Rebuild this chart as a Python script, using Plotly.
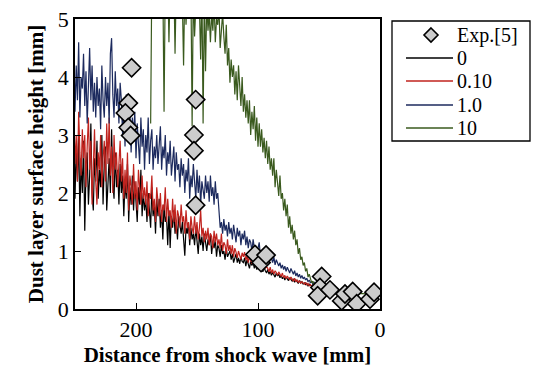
import plotly.graph_objects as go

# ---------------- data ----------------
# Experimental points Exp.[5]
exp_x = [203.6, 206.3, 208.7, 206.3, 204.4, 151.1, 152.5, 152.5, 151.1, 102.5, 97.5, 93.4,
         47.8, 49.2, 51.1, 41.0, 31.4, 28.7, 22.4, 19.1, 8.2, 4.9]
exp_y = [4.16, 3.55, 3.38, 3.13, 2.99, 3.61, 3.00, 2.73, 1.79, 0.94, 0.80, 0.93,
         0.56, 0.37, 0.23, 0.33, 0.14, 0.26, 0.30, 0.09, 0.17, 0.29]

# sampling positions of simulated profiles 0 / 0.10 / 1.0 [mm]
sim_x = [252, 251, 250, 249, 248, 247, 246, 245, 244, 243,
         242, 241, 240, 239, 238, 237, 236, 235, 234, 233,
         232, 231, 230, 229, 228, 227, 226, 225, 224, 223,
         222, 221, 220, 219, 218, 217, 216, 215, 214, 213,
         212, 211, 210, 209, 208, 207, 206, 205, 204, 203,
         202, 201, 200, 199, 198, 197, 196, 195, 194, 193,
         192, 191, 190, 189, 188, 187, 186, 185, 184, 183,
         182, 181, 180, 179, 178, 177, 176, 175, 174, 173,
         172, 171, 170, 169, 168, 167, 166, 165, 164, 163,
         162, 161, 160, 159, 158, 157, 156, 155, 154, 153,
         152, 151, 150, 149, 148, 147, 146, 145, 144, 143,
         142, 141, 140, 139, 138, 137, 136, 135, 134, 133,
         132, 131, 130, 129, 128, 127, 126, 125, 124, 123,
         122, 121, 120, 119, 118, 117, 116, 115, 114, 113,
         112, 111, 110, 109, 108, 107, 106, 105, 104, 103,
         102, 101, 100, 99, 98, 97, 96, 95, 94, 93,
         92, 91, 90, 89, 88, 87, 86, 85, 84, 83,
         82, 81, 80, 79, 78, 77, 76, 75, 74, 73,
         72, 71, 70, 69, 68, 67, 66, 65, 64, 63,
         62, 61, 60, 59, 58, 57, 56, 55, 54, 53,
         52, 51, 50]

y_0 = [2.5, 3.1, 1.9, 2.8, 2.2, 3.0, 1.6, 2.6, 2.0, 2.9,
       1.35, 2.4, 2.7, 1.8, 2.3, 3.2, 2.0, 1.7, 2.6, 2.2,
       2.9, 1.9, 2.4, 2.1, 3.0, 1.8, 2.5, 2.8, 1.7, 2.3,
       2.6, 2.0, 3.1, 2.2, 1.9, 2.7, 2.1, 2.4, 1.8, 2.5,
       2.0, 2.3, 1.6, 2.2, 1.9, 2.5, 1.5, 2.1, 1.8, 2.3,
       1.7, 2.2, 1.9, 1.5, 2.1, 1.8, 2.4, 1.6, 2.0, 1.7,
       1.9, 1.5, 2.0, 1.7, 1.4, 2.1, 1.6, 1.8, 1.3, 1.9,
       1.6, 1.9, 1.4, 1.7, 1.2, 1.8, 1.5, 1.6, 1.1, 1.7,
       1.05, 1.6, 1.4, 1.7, 1.3, 1.5, 1.2, 1.6, 1.4, 1.3,
       1.5, 1.1, 0.92, 1.4, 1.3, 1.5, 1.1, 1.4, 1.2, 1.3,
       1.1, 1.4, 1.2, 0.95, 1.3, 1.1, 1.25, 1.0, 1.3, 1.15,
       1.0, 1.2, 1.1, 1.3, 0.95, 1.15, 1.05, 1.2, 0.9, 1.1,
       1.05, 0.9, 1.1, 0.95, 1.0, 0.85, 1.05, 0.9, 0.95, 1.0,
       0.85, 0.95, 0.8, 0.9, 0.95, 0.8, 0.88, 0.78, 0.9, 0.82,
       0.8, 0.88, 0.74, 0.85, 0.78, 0.7, 0.82, 0.75, 0.8, 0.7,
       0.76, 0.68, 0.72, 0.78, 0.66, 0.7, 0.64, 0.72, 0.66, 0.62,
       0.68, 0.6, 0.65, 0.58, 0.63, 0.6, 0.55, 0.62, 0.57, 0.6,
       0.54, 0.58, 0.52, 0.56, 0.5, 0.55, 0.52, 0.49, 0.54, 0.5,
       0.48, 0.52, 0.46, 0.5, 0.47, 0.44, 0.49, 0.45, 0.47, 0.43,
       0.45, 0.42, 0.44, 0.4, 0.43, 0.41, 0.39, 0.42, 0.38, 0.4,
       0.37, 0.39, 0.36]

y_010 = [2.8, 3.3, 2.5, 3.0, 2.2, 3.4, 2.7, 2.3, 3.1, 2.6,
         3.0, 2.1, 2.8, 3.3, 2.4, 2.9, 1.8, 2.6, 3.1, 2.2,
         1.8, 2.7, 2.4, 3.0, 2.1, 2.6, 2.9, 2.2, 3.2, 2.5,
         3.3, 2.3, 2.8, 2.0, 3.0, 2.4, 2.7, 2.1, 2.5, 2.9,
         2.2, 2.6, 1.9, 2.4, 2.0, 2.7, 1.7, 2.3, 2.1, 1.8,
         2.5, 1.9, 2.2, 1.7, 2.4, 2.0, 1.8, 2.3, 1.9, 2.1,
         1.8, 2.2, 1.6, 2.0, 1.9, 2.3, 1.7, 1.9, 1.5, 2.1,
         1.9, 1.6, 2.0, 1.5, 1.8, 1.7, 2.1, 1.5, 1.9, 1.6,
         1.7, 1.4, 1.9, 1.5, 1.8, 1.3, 1.7, 1.6, 1.4, 1.8,
         1.5, 1.6, 1.3, 1.7, 1.4, 1.5, 1.2, 1.6, 1.4, 1.3,
         1.6, 1.3, 1.5, 1.2, 1.4, 1.7, 1.25, 1.4, 1.15, 1.35,
         1.2, 1.4, 1.1, 1.3, 1.25, 1.05, 1.35, 1.15, 1.3, 1.1,
         1.2, 1.05, 1.3, 1.0, 1.15, 1.1, 0.95, 1.2, 1.0, 1.1,
         0.95, 1.1, 0.9, 1.05, 0.98, 0.88, 1.0, 0.92, 0.85, 0.97,
         0.9, 0.98, 0.84, 0.93, 0.8, 0.9, 0.85, 0.78, 0.88, 0.8,
         0.85, 0.76, 0.82, 0.7, 0.8, 0.74, 0.68, 0.77, 0.7, 0.73,
         0.7, 0.64, 0.72, 0.62, 0.68, 0.6, 0.66, 0.63, 0.58, 0.64,
         0.6, 0.56, 0.62, 0.54, 0.58, 0.52, 0.57, 0.53, 0.5, 0.55,
         0.52, 0.48, 0.53, 0.47, 0.5, 0.46, 0.49, 0.44, 0.47, 0.45,
         0.43, 0.46, 0.41, 0.44, 0.4, 0.42, 0.39, 0.41, 0.38, 0.4,
         0.37, 0.38, 0.35]

y_10 = [3.7, 4.5, 3.4, 4.2, 3.6, 4.6, 3.3, 4.0, 3.8, 4.4,
        3.5, 4.1, 3.2, 3.9, 4.5, 3.6, 4.2, 3.4, 3.9, 3.3,
        4.0, 3.5, 3.8, 3.1, 4.2, 3.6, 3.3, 4.0, 3.5, 3.9,
        3.2, 4.4, 4.67, 3.7, 3.3, 4.1, 3.5, 3.8, 3.2, 3.9,
        3.6, 3.0, 3.5, 2.8, 3.7, 3.2, 2.9, 3.4, 2.7, 3.3,
        3.0, 3.4, 2.6, 3.2, 2.9, 2.5, 3.3, 2.8, 3.1, 2.4,
        3.0, 2.7, 3.3, 2.5, 2.9, 3.1, 2.4, 2.8, 2.6, 3.0,
        2.5, 2.9, 3.15, 2.4, 2.8, 2.6, 3.0, 2.3, 2.7, 2.5,
        2.9, 2.3, 2.6, 2.8, 2.2, 2.7, 2.4, 2.5, 2.1, 2.6,
        2.3, 2.5, 2.0, 2.4, 2.2, 2.6, 1.9, 2.3, 2.1, 2.5,
        2.2, 1.9, 2.4, 2.0, 2.3, 1.8, 2.2, 2.05, 1.9, 2.3,
        2.0, 2.2, 1.85, 2.3, 1.95, 2.1, 1.8, 2.2, 1.9, 2.0,
        1.6, 1.4, 1.5, 1.3, 1.55, 1.35, 1.45, 1.25, 1.5, 1.3,
        1.4, 1.2, 1.45, 1.3, 1.15, 1.4, 1.25, 1.35, 1.1, 1.3,
        1.2, 1.35, 1.1, 1.25, 1.05, 1.2, 1.15, 1.0, 1.2, 1.05,
        1.1, 0.95, 1.05, 1.15, 0.9, 1.0, 0.95, 1.05, 0.88, 0.98,
        0.9, 0.82, 0.95, 0.85, 0.8, 0.9, 0.76, 0.85, 0.78, 0.74,
        0.8, 0.7, 0.76, 0.68, 0.74, 0.65, 0.72, 0.66, 0.62, 0.7,
        0.64, 0.6, 0.66, 0.57, 0.62, 0.55, 0.6, 0.53, 0.58, 0.52,
        0.55, 0.5, 0.53, 0.47, 0.5, 0.45, 0.48, 0.43, 0.46, 0.42,
        0.4, 0.38, 0.34]

# profile 10 (values above 5 are clipped by the axis)
g_x = [188, 187, 186, 185, 184, 183, 182, 181, 180, 179,
       178, 177, 176, 175, 174, 173, 172, 171, 170, 169,
       168, 167, 166, 165, 164, 163, 162, 161, 160, 159,
       158, 157, 156, 155, 154, 153, 152, 151, 150, 149,
       148, 147, 146, 145, 144, 143, 142, 141, 140, 139,
       138, 137, 136, 135, 134, 133, 132, 131, 130, 129,
       128, 127, 126, 125, 124, 123, 122, 121, 120, 119,
       118, 117, 116, 115, 114, 113, 112, 111, 110, 109,
       108, 107, 106, 105, 104, 103, 102, 101, 100, 99,
       98, 97, 96, 95, 94, 93, 92, 91, 90, 89,
       88, 87, 86, 85, 84, 83, 82, 81, 80, 79,
       78, 77, 76, 75, 74, 73, 72, 71, 70, 69,
       68, 67, 66, 65, 64, 63, 62, 61, 60, 59,
       58, 57, 56, 55, 54, 53, 52, 51, 50,
       48, 44, 40, 36, 30, 20, 10, 0]
y_100 = [3.2, 5.8, 5.5, 5.9, 5.4, 5.7, 5.6, 5.8, 5.5, 5.9,
         5.6, 3.4, 5.7, 5.5, 5.8, 4.6, 5.6, 5.8, 5.3, 5.7,
         4.4, 5.6, 5.4, 5.7, 5.5, 5.9, 5.3, 4.2, 5.6, 4.9,
         5.5, 5.8, 5.3, 5.6, 3.15, 5.6, 4.7, 5.4, 5.7, 5.5,
         5.2, 4.3, 5.6, 3.2, 5.4, 4.1, 5.3, 4.8, 5.1, 4.6,
         5.1, 4.8, 5.3, 4.6, 5.0, 4.9, 5.2, 4.5, 4.9, 5.1,
         4.7, 4.4, 4.9, 4.2, 4.5, 3.9, 4.3, 4.0, 4.2, 3.7,
         4.1, 3.6, 4.2, 3.8, 3.5, 4.0, 3.4, 3.7, 3.3, 3.6,
         3.2, 3.6, 3.0, 3.4, 3.1, 3.5, 2.9, 3.3, 2.8, 3.2,
         2.8, 3.1, 2.7, 2.95, 2.6, 2.9, 2.5, 2.8, 2.4, 2.6,
         2.3, 2.6, 2.1, 2.4, 2.2, 1.95, 2.3, 1.9, 2.0, 1.7,
         1.9, 1.6, 1.8, 1.4, 1.6, 1.3, 1.45, 1.2, 1.35, 1.1,
         1.2, 0.95, 1.05, 0.85, 0.9, 0.75, 0.8, 0.65, 0.7, 0.55,
         0.6, 0.5, 0.45, 0.48, 0.4, 0.36, 0.33, 0.3, 0.3,
         0.28, 0.3, 0.26, 0.28, 0.26, 0.27, 0.26, 0.27]

legend_names = ["Exp.[5]", "0", "0.10", "1.0", "10"]
line_colors = ["black", "#c0231e", "#1c2a5e", "#3a5a1e"]

# ---------------- figure ----------------
FONT = "Liberation Serif, Times New Roman, serif"
W, H = 533, 369
L, R, T, B = 75, 153, 19, 60
PW, PH = W - L - R, H - T - B

fig = go.Figure()
series = [(sim_x, y_0), (sim_x, y_010), (sim_x, y_10), (g_x, y_100)]
for (xs, ys), name, col in zip(series, legend_names[1:], line_colors):
    fig.add_trace(go.Scatter(x=xs, y=ys, mode="lines", name=name, showlegend=False,
                             line=dict(color=col, width=1.2)))
fig.add_trace(go.Scatter(x=exp_x, y=exp_y, mode="markers", name=legend_names[0],
                         showlegend=False,
                         marker=dict(symbol="diamond", size=14, color="#cccccc",
                                     line=dict(color="black", width=1.6))))


# legend drawn in the right margin (pixel layout -> paper coords)
def px(x):
    return (x - L) / PW


def py(y):
    return (H - B - y) / PH


shapes = []
annotations = []
shapes.append(dict(type="rect", xref="paper", yref="paper",
                   x0=px(392), x1=px(530), y0=py(141), y1=py(21),
                   line=dict(color="black", width=1.3), fillcolor="white"))
rows_y = [35, 58, 81, 105, 128]
sym_x0, sym_x1, text_x = 406, 453, 455
# diamond symbol
cx, cy, r = 431, rows_y[0], 7
shapes.append(dict(type="path", xref="paper", yref="paper",
                   path=f"M {px(cx)},{py(cy - r)} L {px(cx + r)},{py(cy)} "
                        f"L {px(cx)},{py(cy + r)} L {px(cx - r)},{py(cy)} Z",
                   fillcolor="#cccccc", line=dict(color="black", width=1.6)))
for yy, col in zip(rows_y[1:], line_colors):
    shapes.append(dict(type="line", xref="paper", yref="paper",
                       x0=px(sym_x0), x1=px(sym_x1), y0=py(yy), y1=py(yy),
                       line=dict(color=col, width=1.5)))
for yy, name in zip(rows_y, legend_names):
    annotations.append(dict(text=name, xref="paper", yref="paper",
                            x=px(text_x), y=py(yy), xanchor="left", yanchor="middle",
                            showarrow=False, font=dict(family=FONT, size=20, color="black")))

fig.update_layout(
    width=W, height=H,
    margin=dict(l=L, r=R, t=T, b=B, autoexpand=False),
    paper_bgcolor="white", plot_bgcolor="white",
    font=dict(family=FONT, size=21, color="black"),
    showlegend=False,
    shapes=shapes,
    annotations=annotations,
    xaxis=dict(range=[250, 0], tickvals=[200, 100, 0], ticks="inside", ticklen=6,
               showline=True, mirror=True, linecolor="black", linewidth=1.8,
               tickcolor="black", tickwidth=1.2, showgrid=False, zeroline=False,
               tickfont=dict(family=FONT, size=22, color="black"),
               title=dict(text="<b>Distance from shock wave [mm]</b>",
                          font=dict(family=FONT, size=21), standoff=6)),
    yaxis=dict(range=[0, 5], tickvals=[0, 1, 2, 3, 4, 5], ticks="inside", ticklen=6,
               showline=True, mirror=True, linecolor="black", linewidth=1.8,
               tickcolor="black", tickwidth=1.2, showgrid=False, zeroline=False,
               tickfont=dict(family=FONT, size=22, color="black"),
               title=dict(text="<b>Dust layer surface height [mm]</b>",
                          font=dict(family=FONT, size=21), standoff=8)),
)

fig.write_html("out.html", config={"displayModeBar": False},
               post_script="document.body.style.margin='0';")
